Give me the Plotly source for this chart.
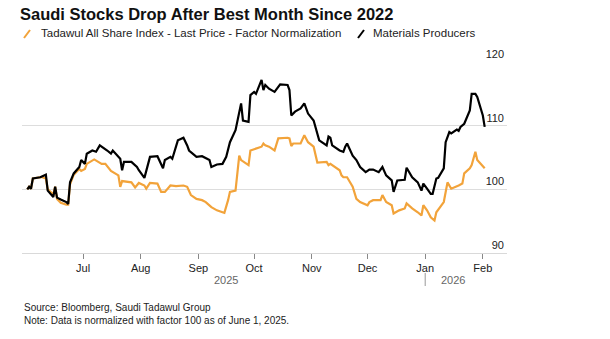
import plotly.graph_objects as go

# ---------------- data ----------------
materials_dates = [
    "2025-06-01", "2025-06-02", "2025-06-03", "2025-06-04", "2025-06-08", "2025-06-09",
    "2025-06-11", "2025-06-12", "2025-06-15", "2025-06-16", "2025-06-17", "2025-06-19",
    "2025-06-22", "2025-06-23", "2025-06-24", "2025-06-26", "2025-06-29", "2025-06-30",
    "2025-07-02", "2025-07-03", "2025-07-06", "2025-07-08", "2025-07-10", "2025-07-14",
    "2025-07-16", "2025-07-17", "2025-07-21", "2025-07-22", "2025-07-23", "2025-07-27",
    "2025-07-30", "2025-07-31", "2025-08-03", "2025-08-06", "2025-08-10", "2025-08-13",
    "2025-08-14", "2025-08-17", "2025-08-18", "2025-08-21", "2025-08-24", "2025-08-26",
    "2025-08-27", "2025-08-31", "2025-09-03", "2025-09-07", "2025-09-08", "2025-09-11",
    "2025-09-14", "2025-09-16", "2025-09-18", "2025-09-21", "2025-09-23", "2025-09-24",
    "2025-09-25", "2025-09-28", "2025-09-29", "2025-10-01", "2025-10-02", "2025-10-05",
    "2025-10-06", "2025-10-07", "2025-10-09", "2025-10-12", "2025-10-15", "2025-10-19",
    "2025-10-20", "2025-10-21", "2025-10-23", "2025-10-26", "2025-10-28", "2025-10-30",
    "2025-11-02", "2025-11-04", "2025-11-05", "2025-11-09", "2025-11-10", "2025-11-11",
    "2025-11-12", "2025-11-16", "2025-11-18", "2025-11-19", "2025-11-20", "2025-11-23",
    "2025-11-25", "2025-11-27", "2025-11-30", "2025-12-02", "2025-12-04", "2025-12-07",
    "2025-12-09", "2025-12-11", "2025-12-14", "2025-12-15", "2025-12-17", "2025-12-21",
    "2025-12-22", "2025-12-25", "2025-12-28", "2025-12-30", "2025-12-31", "2026-01-02",
    "2026-01-04", "2026-01-05", "2026-01-07", "2026-01-08", "2026-01-11", "2026-01-12",
    "2026-01-14", "2026-01-15", "2026-01-18", "2026-01-19", "2026-01-20", "2026-01-22",
    "2026-01-25", "2026-01-26", "2026-01-28", "2026-01-29", "2026-02-01", "2026-02-02",
]
materials_values = [
    100.0, 100.4, 100.1, 101.7, 101.9, 102.0,
    102.3, 99.8, 98.8, 100.4, 98.7, 98.4,
    98.0, 97.7, 101.1, 102.5, 103.5, 104.6,
    104.0, 105.6, 106.1, 105.9, 106.9, 106.1,
    105.6, 106.1, 104.8, 103.0, 104.3, 104.3,
    103.5, 103.0, 101.8, 105.1, 105.2, 103.3,
    104.6, 105.1, 104.8, 107.7, 108.1, 106.9,
    106.1, 105.1, 105.2, 104.6, 103.5, 103.9,
    104.0, 105.1, 107.4, 109.3, 111.9, 113.5,
    110.8, 110.6, 114.8, 115.3, 115.0, 117.2,
    115.6, 116.4, 115.8, 115.3, 116.5, 116.4,
    115.6, 111.6, 112.2, 112.7, 113.5, 111.9,
    110.8, 108.6, 107.7, 106.9, 108.3, 108.1,
    106.9, 106.1, 105.9, 106.7, 107.2, 105.3,
    104.6, 103.5, 102.7, 103.1, 103.1, 102.7,
    103.5, 102.2, 101.4, 99.6, 101.4, 101.5,
    103.4, 101.9, 101.1, 99.8, 100.9, 100.1,
    99.3, 99.3, 101.7, 101.8, 103.3, 107.4,
    109.0, 108.8, 109.4, 109.2, 109.8, 110.3,
    112.4, 115.0, 115.0, 114.5, 111.6, 109.8,
]

tasi_dates = [
    "2025-06-01", "2025-06-02", "2025-06-03", "2025-06-04", "2025-06-08", "2025-06-09",
    "2025-06-11", "2025-06-12", "2025-06-15", "2025-06-16", "2025-06-17", "2025-06-19",
    "2025-06-22", "2025-06-23", "2025-06-24", "2025-06-26", "2025-06-29", "2025-06-30",
    "2025-07-02", "2025-07-03", "2025-07-07", "2025-07-11", "2025-07-13", "2025-07-16",
    "2025-07-20", "2025-07-21", "2025-07-22", "2025-07-27", "2025-07-29", "2025-07-31",
    "2025-08-03", "2025-08-04", "2025-08-06", "2025-08-10", "2025-08-12", "2025-08-14",
    "2025-08-17", "2025-08-20", "2025-08-24", "2025-08-26", "2025-08-28", "2025-08-31",
    "2025-09-03", "2025-09-05", "2025-09-08", "2025-09-11", "2025-09-14", "2025-09-15",
    "2025-09-17", "2025-09-18", "2025-09-21", "2025-09-23", "2025-09-24", "2025-09-28",
    "2025-09-29", "2025-10-02", "2025-10-05", "2025-10-06", "2025-10-07", "2025-10-09",
    "2025-10-12", "2025-10-14", "2025-10-19", "2025-10-20", "2025-10-21", "2025-10-22",
    "2025-10-26", "2025-10-28", "2025-10-30", "2025-11-02", "2025-11-04", "2025-11-09",
    "2025-11-10", "2025-11-11", "2025-11-16", "2025-11-17", "2025-11-18", "2025-11-20",
    "2025-11-23", "2025-11-25", "2025-11-27", "2025-12-01", "2025-12-02", "2025-12-04",
    "2025-12-08", "2025-12-09", "2025-12-11", "2025-12-14", "2025-12-15", "2025-12-18",
    "2025-12-21", "2025-12-22", "2025-12-25", "2025-12-28", "2025-12-30", "2025-12-31",
    "2026-01-02", "2026-01-04", "2026-01-06", "2026-01-07", "2026-01-09", "2026-01-11",
    "2026-01-13", "2026-01-15", "2026-01-19", "2026-01-21", "2026-01-22", "2026-01-25",
    "2026-01-26", "2026-01-28", "2026-01-29", "2026-02-02",
]
tasi_values = [
    100.0, 100.4, 100.1, 101.7, 101.9, 101.9,
    101.7, 100.0, 99.2, 100.4, 98.5, 97.9,
    97.6, 97.6, 100.8, 102.3, 103.2, 102.9,
    103.2, 104.0, 104.7, 104.0, 104.0, 102.9,
    102.2, 100.4, 101.3, 101.1, 100.3, 101.0,
    100.6, 100.1, 101.0, 100.9, 99.6, 99.6,
    100.6, 100.5, 100.6, 100.4, 99.1, 98.5,
    98.3, 98.0, 97.2, 96.7, 96.4, 96.3,
    98.3, 99.6, 99.8, 105.3, 104.6, 103.8,
    106.1, 106.4, 106.7, 107.2, 106.9, 106.7,
    106.1, 108.0, 108.1, 108.0, 106.8, 107.2,
    107.2, 108.5, 107.4, 106.7, 104.2, 104.3,
    103.8, 104.0, 103.0, 102.2, 101.9, 101.9,
    100.4, 98.5, 98.0, 97.5, 98.0, 98.3,
    98.3, 99.1, 98.0, 97.5, 96.2, 96.7,
    97.0, 97.8, 97.0, 96.4, 95.9, 97.5,
    96.7, 95.6, 95.1, 96.4, 97.2, 98.0,
    101.1, 100.1, 100.6, 100.9, 102.5, 103.3,
    103.8, 105.9, 104.6, 103.3,
]

month_tick_vals = ["2025-07-01", "2025-08-01", "2025-09-01", "2025-10-01",
                   "2025-11-01", "2025-12-01", "2026-01-01", "2026-02-01"]
month_tick_text = ["Jul", "Aug", "Sep", "Oct", "Nov", "Dec", "Jan", "Feb"]
y_tick_vals = [90, 100, 110, 120]

title_text = "Saudi Stocks Drop After Best Month Since 2022"
tasi_name = "Tadawul All Share Index - Last Price - Factor Normalization"
materials_name = "Materials Producers"
source_text = "Source: Bloomberg, Saudi Tadawul Group"
note_text = "Note: Data is normalized with factor 100 as of June 1, 2025."

ORANGE = "#F2A33A"
BLACK = "#000000"
FONT = "Liberation Sans, Arial, sans-serif"

# ---------------- layout geometry (pixels) ----------------
W, H = 610, 339
L, R, T, B = 22, 103, 62, 86
pw, ph = W - L - R, H - T - B


def px(xp):
    return (xp - L) / pw


def py(yp):
    return (H - B - yp) / ph


fig = go.Figure()
fig.add_trace(go.Scatter(x=tasi_dates, y=tasi_values, mode="lines", name=tasi_name,
                         line=dict(color=ORANGE, width=2.2), showlegend=False))
fig.add_trace(go.Scatter(x=materials_dates, y=materials_values, mode="lines", name=materials_name,
                         line=dict(color=BLACK, width=2.2), showlegend=False))

annotations = [
    dict(text=tasi_name, x=px(39), y=py(33), xref="paper", yref="paper",
         xanchor="left", yanchor="middle", showarrow=False,
         font=dict(size=11.5, color="#222", family=FONT)),
    dict(text=materials_name, x=px(371), y=py(33), xref="paper", yref="paper",
         xanchor="left", yanchor="middle", showarrow=False,
         font=dict(size=11.5, color="#222", family=FONT)),
    dict(text="2025", x="2025-09-16", y=py(280), xref="x", yref="paper",
         xanchor="center", yanchor="middle", showarrow=False,
         font=dict(size=11, color="#666", family=FONT)),
    dict(text="2026", x="2026-01-16", y=py(280), xref="x", yref="paper",
         xanchor="center", yanchor="middle", showarrow=False,
         font=dict(size=11, color="#666", family=FONT)),
    dict(text=source_text, x=0, y=py(307), xref="paper", yref="paper",
         xanchor="left", yanchor="middle", showarrow=False,
         font=dict(size=10, color="#222", family=FONT)),
    dict(text=note_text, x=0, y=py(320), xref="paper", yref="paper",
         xanchor="left", yanchor="middle", showarrow=False,
         font=dict(size=10, color="#222", family=FONT)),
]

shapes = [
    dict(type="line", xref="paper", yref="paper", x0=px(24), y0=py(38), x1=px(30), y1=py(30),
         line=dict(color=ORANGE, width=2)),
    dict(type="line", xref="paper", yref="paper", x0=px(358), y0=py(38), x1=px(364), y1=py(30),
         line=dict(color=BLACK, width=2)),
    dict(type="line", xref="x", yref="paper", x0="2026-01-01", x1="2026-01-01",
         y0=py(273), y1=py(286), line=dict(color="#999", width=1)),
]

fig.update_layout(
    width=W, height=H,
    margin=dict(l=L, r=R, t=T, b=B),
    paper_bgcolor="white", plot_bgcolor="white",
    title=dict(text="<b>" + title_text + "</b>", x=20 / W, xanchor="left",
               y=1 - 14 / H, yanchor="middle",
               font=dict(size=16.5, color="#111", family=FONT)),
    annotations=annotations,
    shapes=shapes,
    xaxis=dict(
        type="date",
        range=["2025-05-29 04:00", "2026-02-14"],
        tickvals=month_tick_vals, ticktext=month_tick_text,
        showgrid=False, zeroline=False,
        showline=True, linecolor="#d9d9d9", linewidth=1,
        ticks="outside", ticklen=5, tickcolor="#888", tickwidth=1,
        tickfont=dict(size=11, color="#222", family=FONT),
    ),
    yaxis=dict(
        range=[90, 120], tickvals=y_tick_vals,
        side="right", ticklabelposition="inside top", ticklabeloverflow="allow",
        showgrid=True, gridcolor="#dddddd", gridwidth=1,
        zeroline=False, showline=False, ticks="",
        tickfont=dict(size=11, color="#222", family=FONT),
    ),
)

fig.write_html("out.html")
